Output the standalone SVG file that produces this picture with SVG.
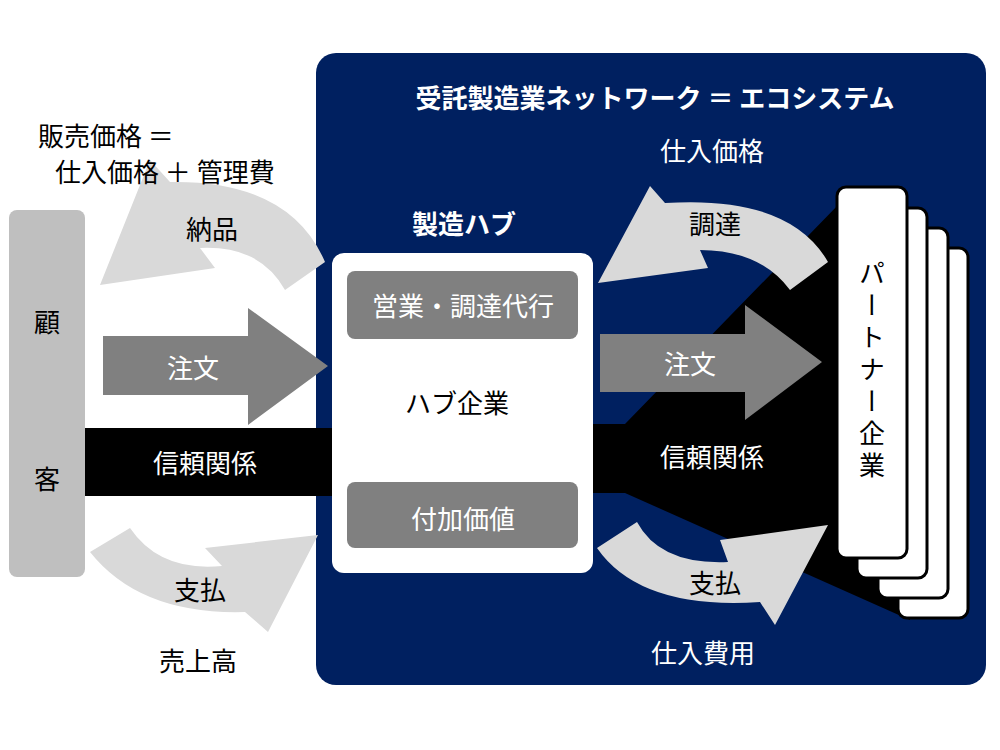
<svg xmlns="http://www.w3.org/2000/svg" width="1000" height="750" viewBox="0 0 1000 750">
<style>
text{font-family:"Noto Sans CJK JP","Noto Sans",sans-serif;font-size:26px;text-anchor:middle;dominant-baseline:central}
.w{fill:#fff}.k{fill:#000}
.lg{fill:#d9d9d9}.dg{fill:#808080}
.card{fill:#fff;stroke:#000;stroke-width:3}
</style>
<rect width="1000" height="750" fill="#fff"/>
<g id="ecosystem">
<rect x="316" y="53" width="670" height="632" rx="20" fill="#002060"/>
<text class="w" x="655" y="96" font-weight="bold" font-size="25">受託製造業ネットワーク ＝ エコシステム</text>
<text class="w" x="712" y="149">仕入価格</text>
<text class="w" x="464" y="222" font-weight="bold" font-size="25">製造ハブ</text>
<text class="w" x="703" y="651">仕入費用</text>
</g>
<g id="connectors">
<polygon class="k" points="580,424 625,424 840,203 910,240 910,620 625,493 580,493"/>
<rect class="k" x="85" y="428" width="250" height="68"/>
<text class="w" x="205" y="461">信頼関係</text>
<text class="w" x="712" y="455">信頼関係</text>
<path class="dg" d="M103,336 H248 V308 L328,366 L248,425 V395 H103 Z"/>
<text class="w" x="193" y="366">注文</text>
<path class="dg" d="M600,334 H745 V305 L822,362 L745,420 V392 H600 Z"/>
<text class="w" x="690" y="362">注文</text>
<path class="lg" d="M325,262 L285,290 Q260,245 200,248 L215,268 L100,285 L150,160 L170,182 Q290,180 325,262 Z"/>
<text class="k" x="212" y="227">納品</text>
<path class="lg" d="M90,552 L130,528 Q160,572 222,566 L205,548 L318,535 L268,632 L245,612 Q140,615 90,552 Z"/>
<text class="k" x="200" y="588">支払</text>
<path class="lg" d="M828,262 L790,290 Q760,250 700,250 L708,268 L598,283 L650,186 L665,203 Q790,195 828,262 Z"/>
<text class="k" x="715" y="222">調達</text>
<path class="lg" d="M597,548 L637,522 Q660,565 728,562 L720,540 L828,525 L775,625 L760,602 Q640,610 597,548 Z"/>
<text class="k" x="715" y="581">支払</text>
</g>
<g id="customer">
<rect x="9" y="210" width="76" height="367" rx="8" fill="#bfbfbf"/>
<text class="k" x="47" y="320">顧</text>
<text class="k" x="47" y="477">客</text>
</g>
<g id="labels">
<text class="k" x="38" y="134" style="text-anchor:start">販売価格 ＝</text>
<text class="k" x="55" y="170" style="text-anchor:start">仕入価格 ＋ 管理費</text>
<text class="k" x="198" y="659">売上高</text>
</g>
<g id="hub">
<rect x="332" y="253" width="261" height="320" rx="12" fill="#fff"/>
<rect x="347" y="271" width="231" height="68" rx="8" class="dg"/>
<text class="w" x="463" y="304">営業・調達代行</text>
<text class="k" x="457" y="401" font-size="30">ハブ企業</text>
<rect x="347" y="482" width="231" height="66" rx="8" class="dg"/>
<text class="w" x="463" y="517">付加価値</text>
</g>
<g id="partners">
<rect class="card" x="898" y="248" width="70" height="370" rx="9"/>
<rect class="card" x="878" y="228" width="70" height="370" rx="9"/>
<rect class="card" x="857" y="208" width="70" height="370" rx="9"/>
<rect class="card" x="837" y="187" width="70" height="371" rx="9"/>
<text class="k" writing-mode="vertical-rl" letter-spacing="6" style="dominant-baseline:auto" x="872" y="372">パートナー企業</text>
</g>
</svg>
